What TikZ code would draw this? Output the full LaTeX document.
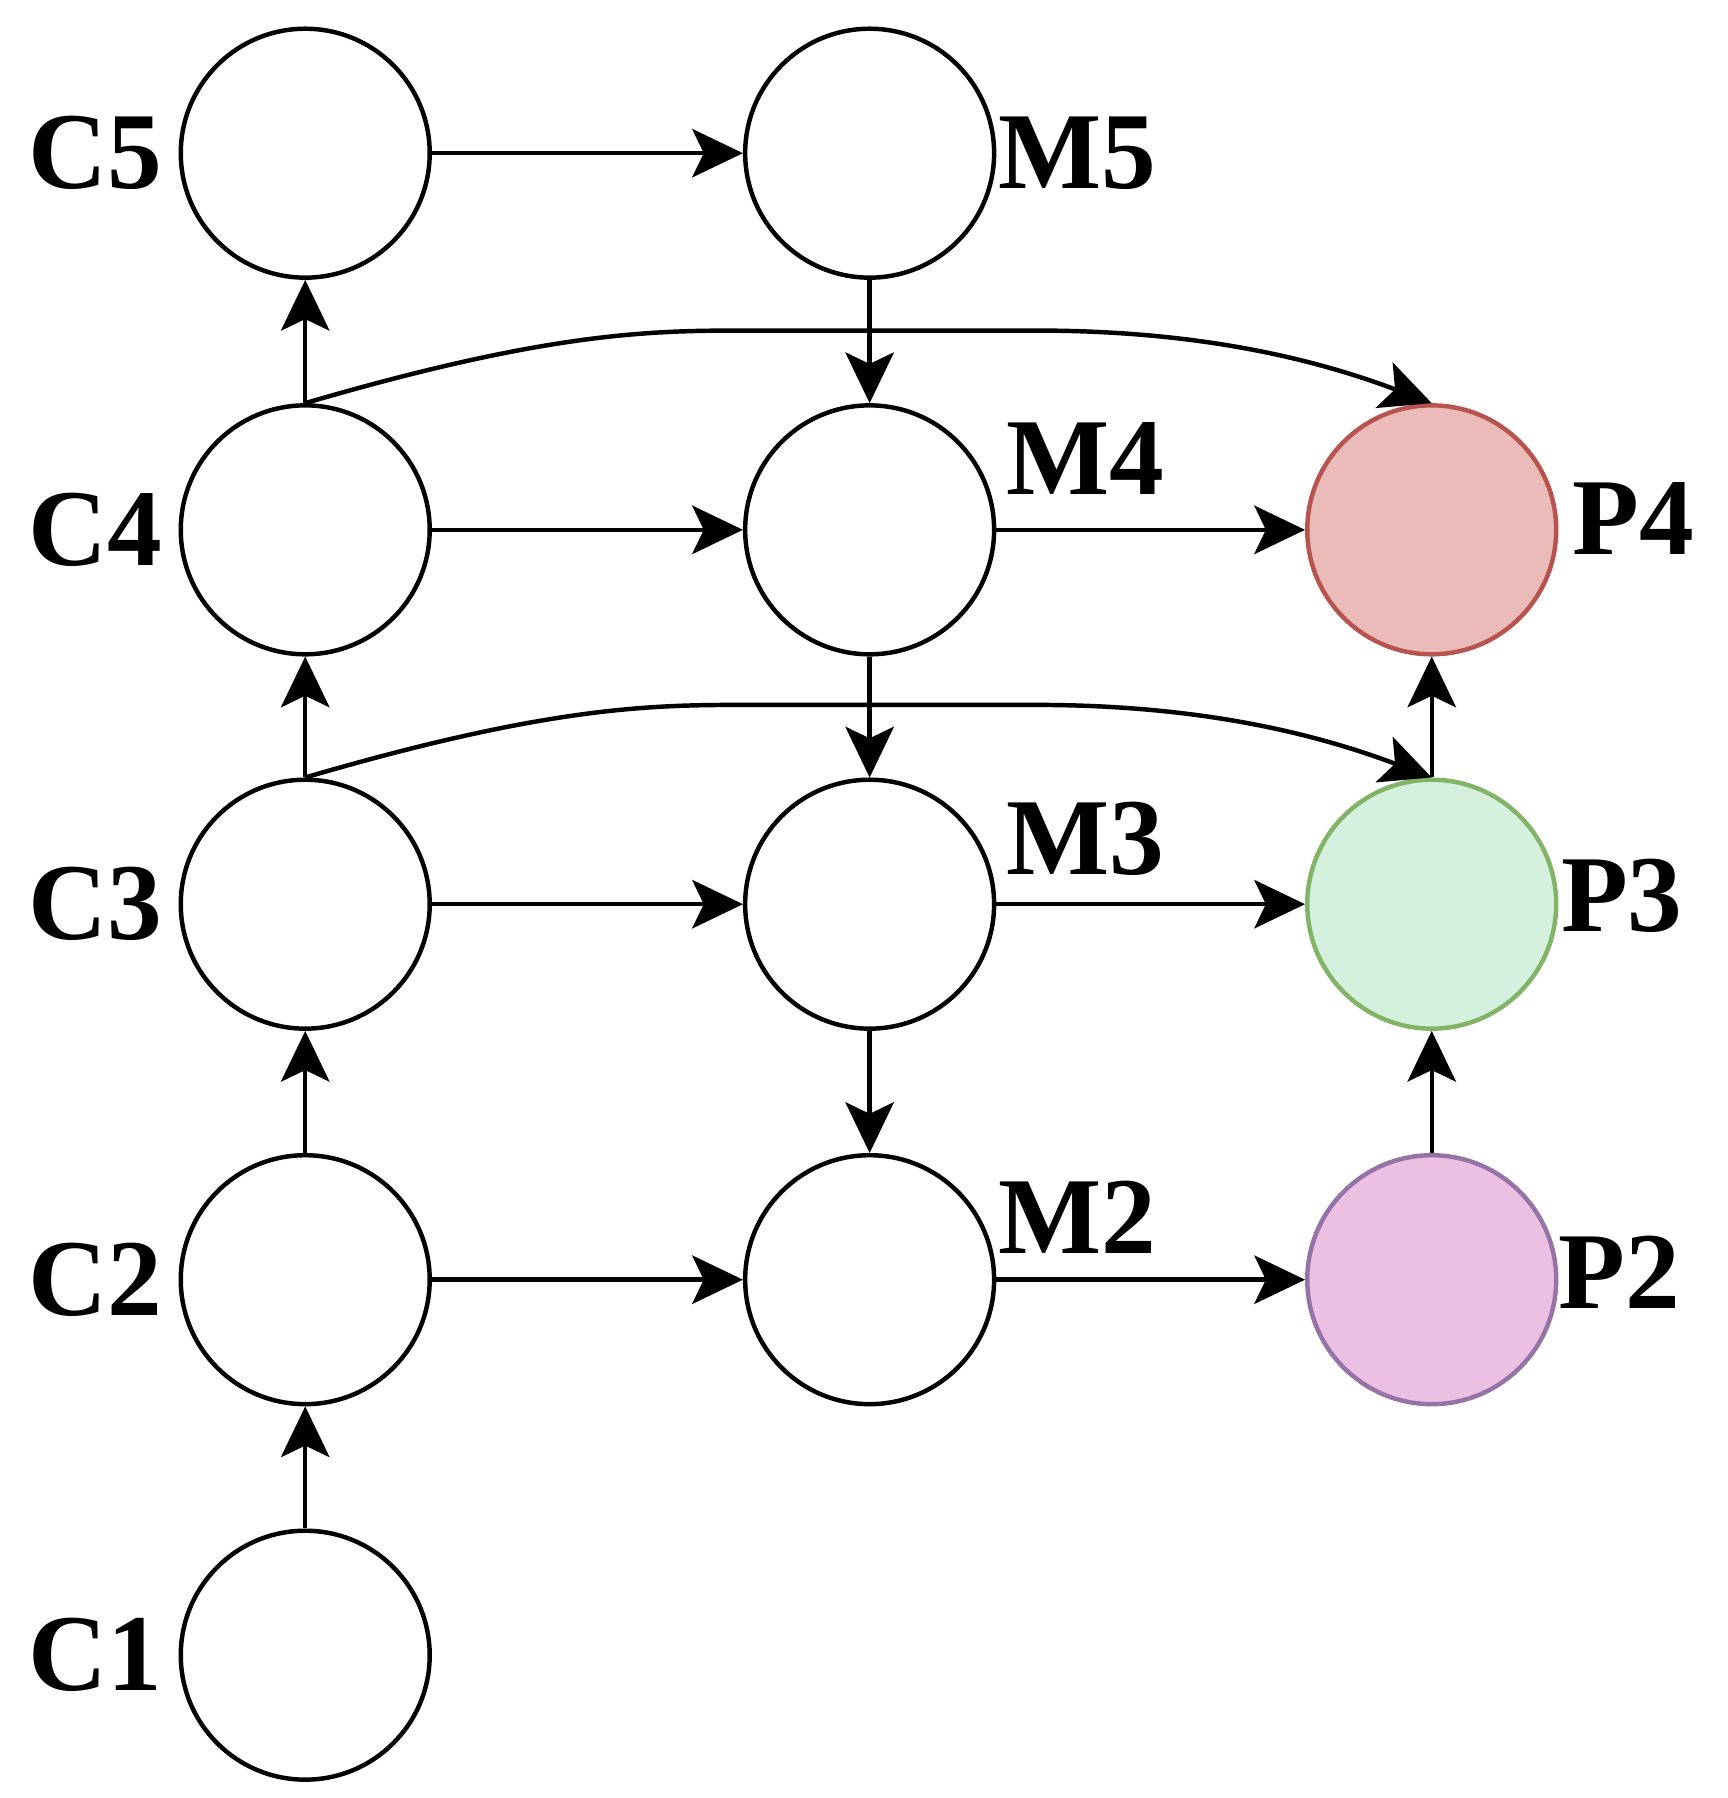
\documentclass[tikz,border=0pt]{standalone}
\usepackage{fontspec}
\setmainfont{Liberation Serif}
\usetikzlibrary{arrows.meta}
\definecolor{redS}{HTML}{B85450}\definecolor{redF}{HTML}{EABBB9}
\definecolor{grnS}{HTML}{82B366}\definecolor{grnF}{HTML}{D5F0DC}
\definecolor{purS}{HTML}{9673A6}\definecolor{purF}{HTML}{ECC0E3}
\begin{document}
\begin{tikzpicture}[x=0.01cm,y=-0.01cm,
  nd/.style={circle,draw,line width=1.1pt,minimum size=2.16cm,inner sep=0},
  lb/.style={font=\bfseries\fontsize{27}{29}\selectfont,inner sep=0},
  ar/.style={line width=1.1pt,-{Stealth[length=0.44cm,width=0.42cm,inset=0.1cm]}}]
\useasboundingbox (0,0) rectangle (1500,1561);
\foreach \i/\y in {5/133,4/460,3/785,2/1111,1/1437}{
  \node[nd] (C\i) at (265,\y) {};
  \node[lb] (lC\i) at (83,\y) {C\i};}
\foreach \i/\y in {5/133,4/460,3/785,2/1111}{\node[nd] (M\i) at (755,\y) {};}
\node[nd,draw=redS,fill=redF] (P4) at (1243,460) {};
\node[nd,draw=grnS,fill=grnF] (P3) at (1243,785) {};
\node[nd,draw=purS,fill=purF] (P2) at (1243,1111) {};
\node[lb] (lM5) at (935,133) {M5};
\node[lb] (lM4) at (942,398) {M4};
\node[lb] (lM3) at (942,728) {M3};
\node[lb] (lM2) at (935,1057) {M2};
\node[lb] (lP4) at (1418,450) {P4};
\node[lb] (lP3) at (1408,778) {P3};
\node[lb] (lP2) at (1406,1105) {P2};
\foreach \a/\b in {1/2,2/3,3/4,4/5}{\draw[ar] (C\a) -- (C\b);}
\foreach \i in {5,4,3,2}{\draw[ar] (C\i) -- (M\i);}
\foreach \a/\b in {5/4,4/3,3/2}{\draw[ar] (M\a) -- (M\b);}
\foreach \i in {4,3,2}{\draw[ar] (M\i) -- (P\i);}
\draw[ar] (P2) -- (P3);
\draw[ar] (P3) -- (P4);
\draw[ar] (C4.north) .. controls (470,290) and (560,287) .. (640,287) -- (900,287) .. controls (1050,287) and (1150,315) .. (P4.north);
\draw[ar] (C3.north) .. controls (470,615) and (560,612) .. (640,612) -- (900,612) .. controls (1050,612) and (1150,640) .. (P3.north);
\end{tikzpicture}
\end{document}
